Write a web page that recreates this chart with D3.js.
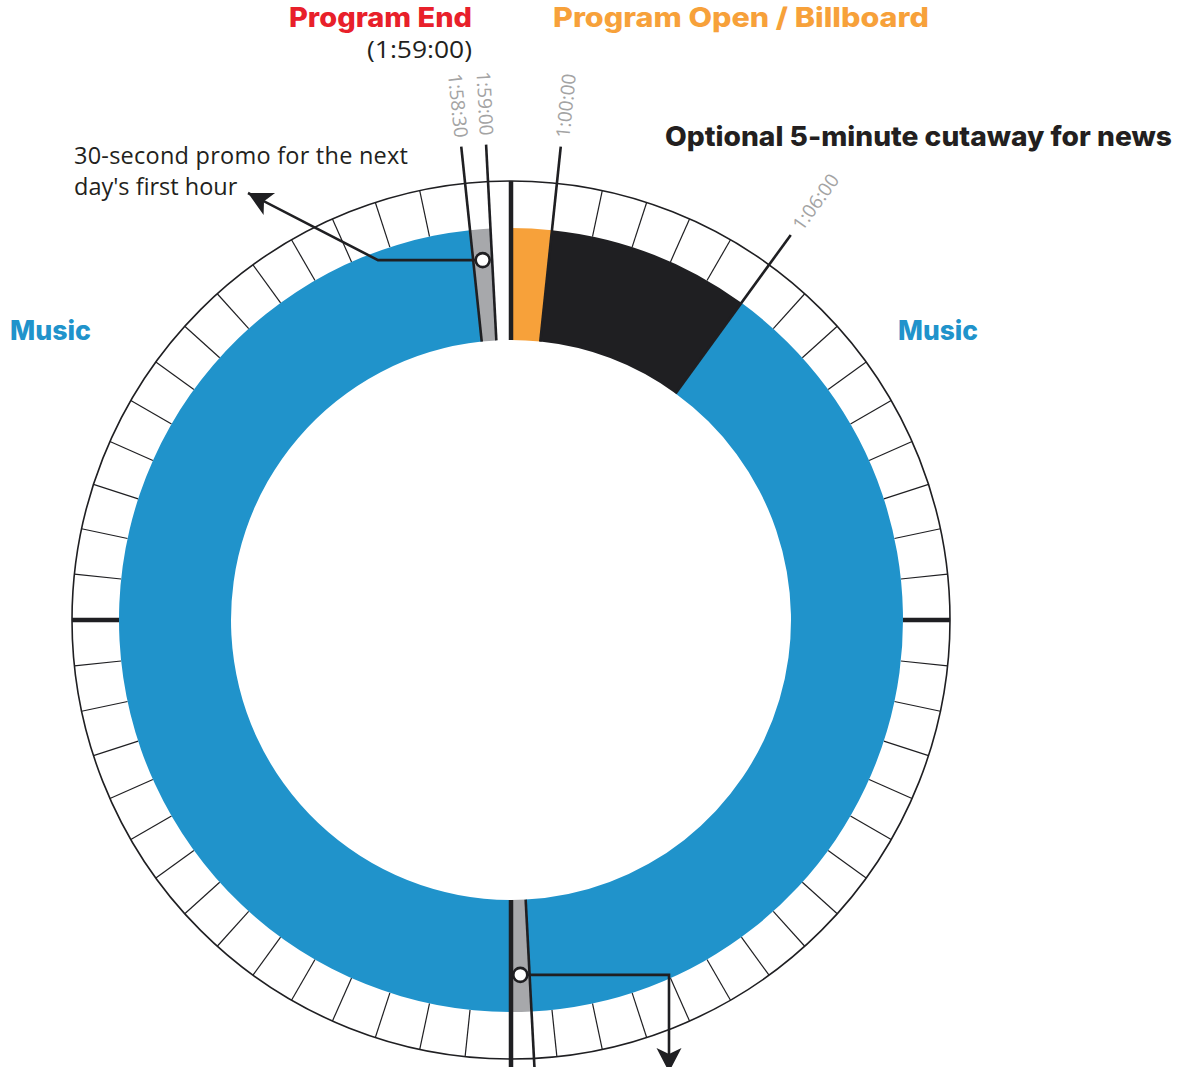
<!DOCTYPE html>
<html>
<head>
<meta charset="utf-8">
<script src="https://cdn.jsdelivr.net/npm/d3@7"></script>
<style>
  body { margin: 0; background: #fff; }
  svg { display: block; }
  .bold { font-family: "Inter", "Noto Sans", sans-serif; font-weight: 800; }
  .reg { font-family: "Open Sans", "Noto Sans", sans-serif; }
</style>
</head>
<body>
<svg id="chart"></svg>
<script>
// donut segments, in minutes of the hour (clockwise from the top)
const segTypes  = ["open", "news", "music", "promo", "music", "promo"];
const segStart  = [0, 1, 6, 29.5, 30, 59];
const segEnd    = [1, 6, 29.5, 30, 59, 59.5];

// time marker lines and their labels
const markerMinutes = [59, 59.5, 1, 6, 29.5];
const markerLabels  = ["1:58:30", "1:59:00", "1:00:00", "1:06:00", ""];

// quarter marks on the minute ring
const majorMinutes = [0, 15, 30, 45];

// callout circles sit on these promo segments
const promoCallouts = [5, 3];

const colors = {
    open: "#f7a13a",
    news: "#1f1f22",
    music: "#2093cb",
    promo: "#a7a8ab"
};

const w = 1186;
const h = 1067;
const cx = 511, cy = 620;
const rIn = 280, rOut = 392, rRing = 439;

const svg = d3.select("#chart").attr("width", w).attr("height", h);

// minutes -> angle
const ang = d3.scaleLinear().domain([0, 60]).range([0, 2 * Math.PI]);
const pt = (m, r) => [cx + r * Math.sin(ang(m)), cy - r * Math.cos(ang(m))];

const g = svg.append("g").attr("transform", "translate(" + cx + "," + cy + ")");

//Arrow heads
const defs = svg.append("defs");
defs.append("marker")
    .attr("id", "arrow")
    .attr("markerUnits", "userSpaceOnUse")
    .attr("viewBox", "-26 -14 28 28")
    .attr("refX", 0).attr("refY", 0)
    .attr("markerWidth", 28).attr("markerHeight", 28)
    .attr("orient", "auto")
    .append("path")
    .attr("d", "M0,0 L-24,-12.5 L-18,0 L-24,12.5 Z")
    .attr("fill", "#1f1f22");

//Minute ring
const minutes = d3.range(60);
g.selectAll(".tick")
    .data(minutes)
    .join("line")
    .attr("class", "tick")
    .attr("x1", d => pt(d, rOut)[0] - cx)
    .attr("y1", d => pt(d, rOut)[1] - cy)
    .attr("x2", d => pt(d, rRing)[0] - cx)
    .attr("y2", d => pt(d, rRing)[1] - cy)
    .attr("stroke", "#1f1f22")
    .attr("stroke-width", 1.2);

g.append("circle")
    .attr("r", rRing)
    .attr("fill", "none")
    .attr("stroke", "#1f1f22")
    .attr("stroke-width", 1.6);

//Donut segments
const arc = d3.arc().innerRadius(rIn).outerRadius(rOut);
const segs = segTypes.map((t, i) => ({type: t, start: segStart[i], end: segEnd[i]}));
g.selectAll(".seg")
    .data(segs)
    .join("path")
    .attr("class", "seg")
    .attr("d", d => arc({startAngle: ang(d.start), endAngle: ang(d.end)}))
    .attr("fill", d => colors[d.type]);

//Quarter marks
g.selectAll(".major")
    .data(majorMinutes)
    .join("line")
    .attr("class", "major")
    .attr("x1", d => pt(d, (d % 30 === 0) ? rIn : rOut)[0] - cx)
    .attr("y1", d => pt(d, (d % 30 === 0) ? rIn : rOut)[1] - cy)
    .attr("x2", d => pt(d, d === 30 ? rRing + 40 : rRing)[0] - cx)
    .attr("y2", d => pt(d, d === 30 ? rRing + 40 : rRing)[1] - cy)
    .attr("stroke", "#1f1f22")
    .attr("stroke-width", 4.5);

//Marker lines
const markers = markerMinutes.map((m, i) => ({m: m, label: markerLabels[i]}));
const rLineEnd = 476, rLabel = 485;
g.selectAll(".marker")
    .data(markers)
    .join("line")
    .attr("class", "marker")
    .attr("x1", d => pt(d.m, rIn)[0] - cx)
    .attr("y1", d => pt(d.m, rIn)[1] - cy)
    .attr("x2", d => pt(d.m, d.label ? rLineEnd : rRing + 40)[0] - cx)
    .attr("y2", d => pt(d.m, d.label ? rLineEnd : rRing + 40)[1] - cy)
    .attr("stroke", "#1f1f22")
    .attr("stroke-width", 2.6);

g.selectAll(".mlabel")
    .data(markers.filter(d => d.label))
    .join("text")
    .attr("class", "mlabel reg")
    .attr("transform", d => {
        const p = pt(d.m, rLabel);
        const deg = ang(d.m) * 180 / Math.PI;
        const rot = d.m > 30 ? deg + 90 : deg - 90;
        return "translate(" + (p[0] - cx) + "," + (p[1] - cy) + ") rotate(" + rot + ")";
    })
    .attr("text-anchor", d => d.m > 30 ? "end" : "start")
    .attr("dy", d => d.m > 30 ? "0.3em" : "0.4em")
    .attr("fill", "#a3a3a3")
    .style("font-size", "19px")
    .text(d => d.label);

//Callouts
const calloutR = [361, 355];
const calloutPts = promoCallouts.map((si, i) => pt((segs[si].start + segs[si].end) / 2, calloutR[i]));

svg.append("path")
    .attr("d", "M" + calloutPts[0][0] + "," + calloutPts[0][1] + " L378," + calloutPts[0][1] + " L248,193")
    .attr("fill", "none")
    .attr("stroke", "#1f1f22")
    .attr("stroke-width", 2.6)
    .attr("marker-end", "url(#arrow)");

svg.append("path")
    .attr("d", "M" + calloutPts[1][0] + "," + calloutPts[1][1] + " L669," + calloutPts[1][1] + " L669,1072")
    .attr("fill", "none")
    .attr("stroke", "#1f1f22")
    .attr("stroke-width", 2.6)
    .attr("marker-end", "url(#arrow)");

svg.selectAll(".dot")
    .data(calloutPts)
    .join("circle")
    .attr("class", "dot")
    .attr("cx", d => d[0])
    .attr("cy", d => d[1])
    .attr("r", 7)
    .attr("fill", "#fff")
    .attr("stroke", "#1f1f22")
    .attr("stroke-width", 2.6);

//Titles and labels
const heading = (x, y, color, txt, len, anchor) => svg.append("text").attr("class", "bold")
    .attr("x", x).attr("y", y)
    .attr("text-anchor", anchor || "start")
    .attr("fill", color)
    .attr("textLength", len)
    .attr("lengthAdjust", "spacingAndGlyphs")
    .style("font-size", "27px")
    .text(txt);

heading(472, 27, "#e8202a", "Program End", 183, "end");
heading(553, 27, colors.open, "Program Open / Billboard", 376);
heading(665, 146, "#231f20", "Optional 5-minute cutaway for news", 507);
heading(10, 340, colors.music, "Music", 81);
heading(898, 340, colors.music, "Music", 80);

svg.append("text").attr("class", "reg")
    .attr("x", 472).attr("y", 58)
    .attr("text-anchor", "end")
    .attr("fill", "#231f20")
    .attr("textLength", 105)
    .attr("lengthAdjust", "spacingAndGlyphs")
    .style("font-size", "23px")
    .text("(1:59:00)");

const promoText = svg.append("text").attr("class", "reg")
    .attr("fill", "#231f20")
    .style("font-size", "23.5px");
promoText.append("tspan").attr("x", 74).attr("y", 164).attr("textLength", 334).text("30-second promo for the next");
promoText.append("tspan").attr("x", 74).attr("y", 195).text("day's first hour");
</script>
</body>
</html>
